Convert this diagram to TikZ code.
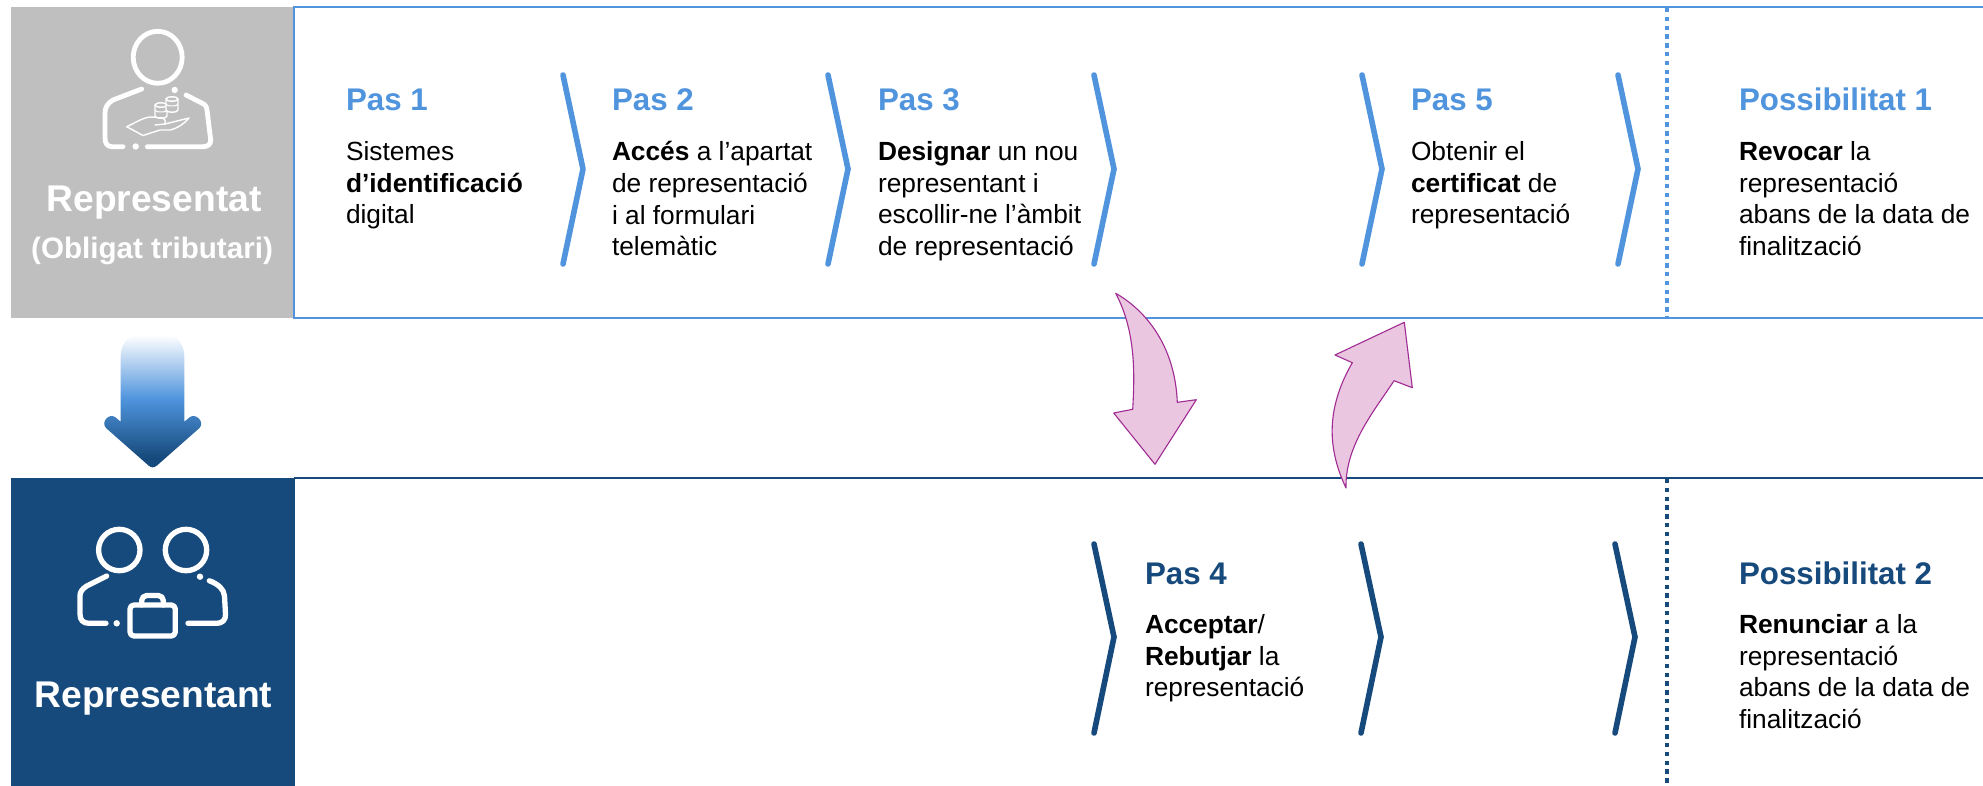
\documentclass[tikz,border=0pt]{standalone}
\usepackage{fontspec}
\setmainfont{Liberation Sans}
\definecolor{lb}{HTML}{4F94DD}
\definecolor{db}{HTML}{174A7C}
\definecolor{gr}{HTML}{BFBFBF}
\definecolor{mag}{HTML}{A02B93}
\definecolor{pk}{HTML}{EAC6E0}
\pgfdeclareverticalshading{arrowsh}{100bp}{color(0bp)=(db); color(29bp)=(db); color(51bp)=(lb); color(75bp)=(white); color(100bp)=(white)}
\tikzset{x=1pt,y=-1pt,
  lbl/.style={inner sep=0pt,outer sep=0pt,anchor=north west,align=left,font=\fontsize{26.3}{31.7}\selectfont,text=black,execute at begin node={\rule{0pt}{20pt}}},
  ttl/.style={inner sep=0pt,outer sep=0pt,anchor=base west,font=\fontsize{31.3}{34}\selectfont\bfseries},
  side/.style={white,inner sep=0pt,anchor=base,font=\fontsize{37.2}{40}\selectfont\bfseries},
  chev/.style={line width=5.6pt,line cap=round,line join=round},
  dotline/.style={line width=4.2pt,dash pattern=on 4.4pt off 4.4pt},
  ico/.style={white,line cap=round,line join=round,line width=4.8pt},
  thin ico/.style={white,line cap=round,line join=round,line width=1.4pt},
  curv/.style={draw=mag,fill=pk,line width=1.1pt,line join=round}}
\begin{document}
\begin{tikzpicture}
\useasboundingbox (0,0) rectangle (1983,786);
\fill[gr] (11,7) rectangle (294.5,318);
\fill[db] (11,478) rectangle (294.5,786);
\draw[lb,line width=1.5pt] (1983,7) -- (294,7) -- (294,318) -- (1983,318);
\draw[db,line width=1.5pt] (294,478) -- (1983,478);
\draw[lb,dotline] (1667,8) -- (1667,317);
\draw[db,dotline] (1667,479) -- (1667,786);
% chevrons
\foreach \x in {563,828,1094,1362,1618}
  \draw[lb,chev] (\x,75) -- (\x+20,169) -- (\x,264);
\foreach \x in {1094,1361,1615}
  \draw[db,chev] (\x,544) -- (\x+20,637) -- (\x,733);
% titles
\node[ttl,text=lb] (p1) at (346,111) {Pas 1};
\node[ttl,text=lb] (p2) at (612,111) {Pas 2};
\node[ttl,text=lb] (p3) at (878,111) {Pas 3};
\node[ttl,text=lb] (p5) at (1411,111) {Pas 5};
\node[ttl,text=lb] (p6) at (1739,111) {Possibilitat 1};
\node[ttl,text=db] (p4) at (1145,584) {Pas 4};
\node[ttl,text=db] (p7) at (1739,584) {Possibilitat 2};
% text
\node[lbl] (t1) at (346,141.5) {Sistemes\\\textbf{d’identificació}\\digital};
\node[lbl] (t2) at (612,141.5) {\textbf{Accés} a l’apartat\\de representació\\i al formulari\\telemàtic};
\node[lbl] (t3) at (878,141.5) {\textbf{Designar} un nou\\representant i\\escollir-ne l’àmbit\\de representació};
\node[lbl] (t5) at (1411,141.5) {Obtenir el\\\textbf{certificat} de\\representació};
\node[lbl] (t6) at (1739,141.5) {\textbf{Revocar} la\\representació\\abans de la data de\\finalització};
\node[lbl] (t4) at (1145,614.5) {\textbf{Acceptar}/\\\textbf{Rebutjar} la\\representació};
\node[lbl] (t7) at (1739,614.5) {\textbf{Renunciar} a la\\representació\\abans de la data de\\finalització};
% side labels
\node[side] (rp) at (154,212) {Representat};
\node[side,font=\fontsize{29.6}{32}\selectfont\bfseries] (ob) at (152,259) {(Obligat tributari)};
\node[side] (rt) at (153.5,707) {Representant};
% person icon
\draw[ico] (157.7,57.3) ellipse (24.5 and 26);
\draw[ico] (141.7,89) -- (113,100) .. controls (108,103) and (105,107) .. (105,113) -- (105,138) .. controls (105,143) and (107,146.7) .. (112,146.7) -- (123,146.7);
\fill[white] (135.7,146.5) circle (3.2);
\fill[white] (174.7,90) circle (3.2);
\draw[ico] (147.3,146.7) -- (203,146.7) .. controls (208,146.7) and (211,144) .. (210.7,140) -- (207,110) .. controls (206.5,106) and (205,104.5) .. (201.7,103) -- (186,95);
\draw[thin ico] (126.7,126.7) .. controls (135,123) and (142,118) .. (150,117) -- (161,117.5) .. controls (165,118) and (166,122) .. (165,124) -- (155,125);
\draw[thin ico] (165,124) -- (189,118) .. controls (184,124) and (178,128) .. (170,130) -- (160,130) -- (143,135.5) -- (126.7,126.7);
\foreach \cx/\cy in {161/110,172/104}{
  \fill[gr] (\cx-6,\cy-5) rectangle (\cx+6,\cy+7);
  \draw[thin ico] (\cx-6,\cy-5) -- (\cx-6,\cy+6) arc[start angle=180,end angle=360,x radius=6,y radius=-2.2] -- (\cx+6,\cy-5);
  \draw[thin ico,fill=gr] (\cx,\cy-5) ellipse (6 and 2.2);
  \draw[white,line width=1pt] (\cx-6,\cy) arc[start angle=180,end angle=360,x radius=6,y radius=-2];
}
% arrow
\shade[shading=arrowsh]
  (120.7,335) ++(0,21) .. controls (120.7,345) and (128,335) .. (138,335) -- (167,335) .. controls (177,335) and (184.3,345) .. (184.3,356) -- (184.3,421.7) -- (190,417) .. controls (196,413) and (205,422) .. (199.5,428) -- (157,465.5) .. controls (154,468) and (151.5,468) .. (148.5,465.5) -- (106,428) .. controls (100.5,422) and (109,413) .. (115,417) -- (120.7,421.7) -- cycle;
% two persons
\begin{scope}[ico,line width=5.3pt]
\draw (119.3,550) circle (20.7);
\draw (186,550) circle (20.7);
\draw (106.7,576) -- (86.7,586) .. controls (82,589) and (80,592) .. (80,596) -- (80,614) .. controls (80,620) and (83,623.3) .. (89,623.3) -- (106,623.3);
\draw (209.3,580.7) .. controls (218,584) and (224,589) .. (224.5,596) -- (225.5,614) .. controls (226,620) and (222,623.3) .. (217,623.3) -- (188,623.3);
\draw[rounded corners=4pt] (130,605) rectangle (175.3,636);
\draw[rounded corners=5pt] (141.7,605) -- (141.7,595.5) -- (163.3,595.5) -- (163.3,605);
\end{scope}
\fill[white] (116.7,623.3) circle (3.2);
\fill[white] (200,576.7) circle (3.2);
% curved arrows
\path[curv] (1115.7,293.3) .. controls (1145,310) and (1175,345) .. (1177.3,402.3) -- (1196.3,399.7) -- (1155,464.3) -- (1113.7,413) -- (1132.7,409.3) .. controls (1135,370) and (1135,330) .. (1115.7,293.3) -- cycle;
\path[curv] (1346,488) .. controls (1328,450) and (1325,410) .. (1352.3,362.7) -- (1335,355) -- (1404.3,322.3) -- (1412.3,387.7) -- (1394,380.7) .. controls (1375,410) and (1345,445) .. (1346,488) -- cycle;
\end{tikzpicture}
\end{document}
